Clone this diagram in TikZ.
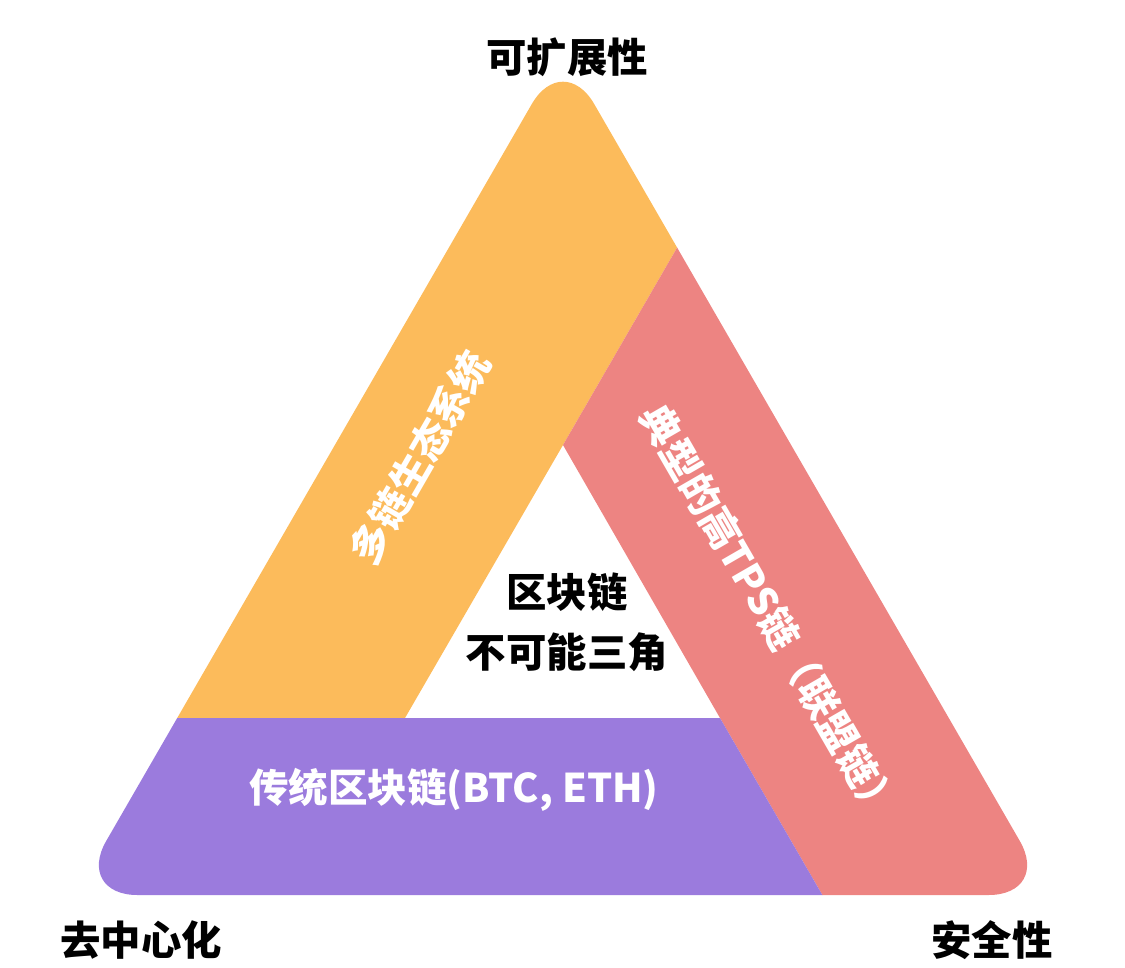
\documentclass[tikz,border=0pt]{standalone}
\usepackage{fontspec}
\setmainfont{Noto Sans CJK SC}
\usepackage{tikz}
\usepackage{xcolor}
\definecolor{scalec}{HTML}{FCBB5B}
\definecolor{securec}{HTML}{ED8482}
\definecolor{decentc}{HTML}{9B7BDD}
\tikzset{
  scaleband/.style={fill=scalec},
  secureband/.style={fill=securec},
  decentband/.style={fill=decentc},
  cornerlabel/.style={font=\bfseries\fontsize{23}{34}\selectfont, text=black, inner sep=0pt},
  bandlabel/.style={font=\bfseries\fontsize{22.5}{27}\selectfont, text=white, inner sep=0pt},
}
\begin{document}
\begin{tikzpicture}[x=0.02cm, y=-0.02cm]
\useasboundingbox (0,0) rectangle (1125,967);
\coordinate (apex) at (563,50);
\coordinate (left) at (75,895);
\coordinate (right) at (1051,895);
\coordinate (inapex) at (563,445);
\coordinate (inleft) at (405,718);
\coordinate (inright) at (720,718);
\begin{scope}
\clip[rounded corners=1.25cm] (apex) -- (right) -- (left) -- cycle;
\fill[scaleband] (inleft) -- (inapex) -- (700,208) -- (700,0) -- (0,0) -- (0,718) -- cycle;
\fill[secureband] (inapex) -- (700,208) -- (1125,208) -- (1125,967) -- (864,967) -- (inright) -- cycle;
\fill[decentband] (0,718) -- (inright) -- (864,967) -- (0,967) -- cycle;
\end{scope}
\node[cornerlabel] (scal) at (567,57) {可扩展性};
\node[cornerlabel] (decent) at (141,940) {去中心化};
\node[cornerlabel] (secur) at (992,940) {安全性};
\node[cornerlabel, align=center] (trilemma) at (567,622) {区块链\\不可能三角};
\node[bandlabel, rotate=60] (multi) at (420,457) {多链生态系统};
\node[bandlabel, rotate=-60] (tps) at (770,613) {典型的高TPS链（联盟链）};
\node[bandlabel] (legacy) at (454,790) {传统区块链(BTC, ETH)};
\end{tikzpicture}
\end{document}
